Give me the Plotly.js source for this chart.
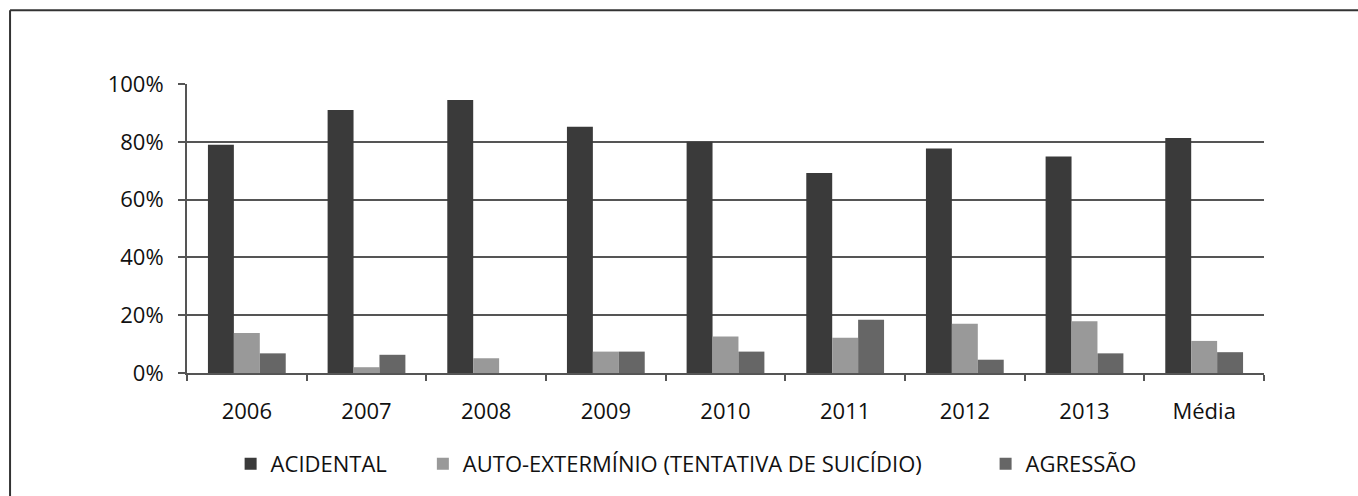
<!DOCTYPE html>
<html>
<head>
<meta charset="utf-8">
<script src="https://cdn.plot.ly/plotly-3.0.1.min.js"></script>
<style>
  html, body { margin: 0; padding: 0; background: #ffffff; }
  #chart { width: 1358px; height: 496px; }
</style>
</head>
<body>
<div id="chart"></div>
<script>
const categories = ['2006', '2007', '2008', '2009', '2010', '2011', '2012', '2013', 'Média'];
const seriesNames = ['ACIDENTAL', 'AUTO-EXTERMÍNIO (TENTATIVA DE SUICÍDIO)', 'AGRESSÃO'];
const acidental = [0.790, 0.910, 0.945, 0.852, 0.800, 0.692, 0.777, 0.749, 0.813];
const autoExterminio = [0.138, 0.020, 0.051, 0.074, 0.126, 0.122, 0.170, 0.179, 0.111];
const agressao = [0.068, 0.063, 0.000, 0.074, 0.074, 0.184, 0.046, 0.068, 0.072];
const yTickValues = [0, 0.2, 0.4, 0.6, 0.8, 1.0];
const yTickLabels = ['0%', '20%', '40%', '60%', '80%', '100%'];

const colors = ['#3a3a3a', '#999999', '#666666'];
const seriesValues = [acidental, autoExterminio, agressao];
const legendIds = ['legend', 'legend2', 'legend3'];

const traces = seriesValues.map((vals, i) => ({
  type: 'bar',
  name: seriesNames[i],
  x: categories,
  y: vals,
  marker: { color: colors[i], line: { width: 0 } },
  legend: legendIds[i],
  hoverinfo: 'x+y+name'
}));

const font = { family: 'Open Sans, sans-serif', size: 22, color: '#111111' };
const legendBase = {
  orientation: 'h', yanchor: 'middle', xanchor: 'left', y: -0.31,
  font: { family: 'Open Sans, sans-serif', size: 22, color: '#111111' },
  bgcolor: 'rgba(0,0,0,0)', borderwidth: 0
};

const layout = {
  width: 1358, height: 496,
  margin: { l: 187, r: 94, t: 84, b: 122, pad: 0 },
  paper_bgcolor: '#ffffff', plot_bgcolor: '#ffffff',
  font: font,
  barmode: 'group', bargap: 0.35, bargroupgap: 0,
  showlegend: true,
  legend: Object.assign({}, legendBase, { x: 0.0405 }),
  legend2: Object.assign({}, legendBase, { x: 0.219 }),
  legend3: Object.assign({}, legendBase, { x: 0.7415 }),
  xaxis: {
    type: 'category', tickson: 'boundaries', ticks: 'outside', ticklen: 6, tickwidth: 2,
    tickcolor: '#555555', showline: true, linecolor: '#555555', linewidth: 2,
    showgrid: false, tickfont: font, automargin: false, ticklabelstandoff: 18
  },
  yaxis: {
    range: [0, 1.0], tickvals: yTickValues, ticktext: yTickLabels,
    ticks: 'outside', ticklen: 7, tickwidth: 2, tickcolor: '#555555',
    showline: true, linecolor: '#555555', linewidth: 2,
    showgrid: true, gridcolor: '#555555', gridwidth: 2, zeroline: false,
    tickfont: font, automargin: false, fixedrange: true, ticklabelstandoff: 10
  },
  shapes: [
    { type: 'line', xref: 'paper', yref: 'paper', x0: -0.1643, x1: 1.1, y0: 1.255, y1: 1.255,
      line: { color: '#333333', width: 2 } },
    { type: 'line', xref: 'paper', yref: 'paper', x0: -0.1643, x1: -0.1643, y0: 1.255, y1: -0.5,
      line: { color: '#333333', width: 2 } }
  ]
};

Plotly.newPlot('chart', traces, layout, { displayModeBar: false, staticPlot: true });
</script>
</body>
</html>
